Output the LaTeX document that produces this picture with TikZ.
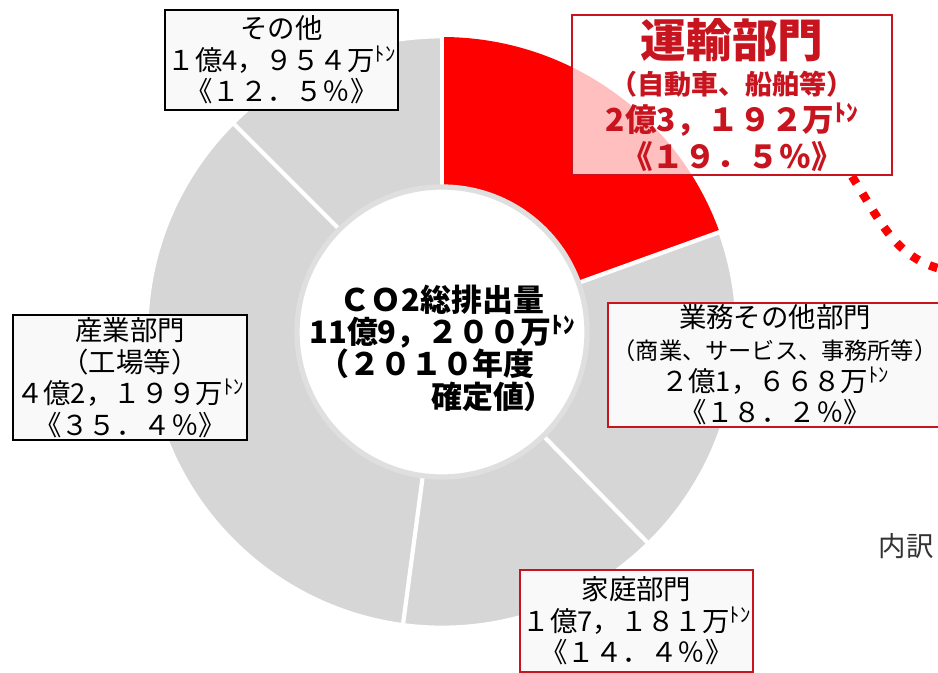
\documentclass[tikz,border=0pt]{standalone}
\usepackage{fontspec}
\setmainfont{Noto Sans CJK JP}
\usepackage{graphicx}
\usetikzlibrary{positioning}
\definecolor{ringgray}{RGB}{214,214,214}
\definecolor{boxred}{RGB}{200,20,30}
\definecolor{wedgered}{RGB}{255,0,0}
\newcommand{\tonunit}{\raisebox{0.6ex}{\scalebox{0.75}{ﾄﾝ}}}
\tikzset{
	databox/.style = {
		draw=black,
		fill=gray!5,
		align=center,
		inner sep=0pt,
		line width=0.6pt,
		font=\fontsize{7.8}{9}\selectfont
	},
	databox_red/.style = {
		databox,
		draw=boxred,
		line width=0.5pt
	},
	databox_main/.style = {
		databox,
		draw=boxred,
		fill=white,
		fill opacity=0.75,
		text opacity=1,
		text=boxred,
		line width=0.8pt,
		font=\bfseries\fontsize{9}{10.5}\selectfont
	},
	center_text/.style = {
		align=center,
		inner sep=0pt,
		font=\bfseries\fontsize{8.8}{9.2}\selectfont
	},
	sep_line/.style = {
		white,
		line width=1.2pt
	},
	dot_link/.style = {
		wedgered,
		line width=2.4pt,
		dash pattern=on 2.4pt off 3.3pt
	}
}

\begin{document}
\begin{tikzpicture}
\path[use as bounding box, fill=white] (0,0) rectangle (9.38,6.72);
\coordinate (ctr) at (4.42,3.40);
\fill[ringgray, even odd rule] (ctr) circle (2.95) (ctr) circle (1.45);
\draw[white, line width=0.8pt] (ctr) circle (2.95);
\fill[wedgered] ([shift={(90:2.95)}]ctr) arc[start angle=90, end angle=19.8, radius=2.95]
	-- ([shift={(19.8:1.45)}]ctr) arc[start angle=19.8, end angle=90, radius=1.45] -- cycle;
\foreach \a in {90,19.8,-45.7,-97.6,135}
	\draw[sep_line] ([shift={(\a:1.40)}]ctr) -- ([shift={(\a:2.96)}]ctr);
\draw[fill=white, draw=gray!25, line width=1.5pt] (ctr) circle (1.45);
\node[center_text] (total) at ([yshift=-0.16cm]ctr) {ＣＯ2総排出量\\11億9，２００万\tonunit\\（２０１０年度\phantom{年}\\\hspace*{3.3em}確定値）};

\node[databox, minimum width=2.33cm, minimum height=1.0cm] (sonota) at (2.815,6.12) {その他\\１億4，９５４万\tonunit\\《１２．５％》};
\node[databox_main, minimum width=3.2cm, minimum height=1.6cm] (unyu) at (7.32,5.77) {{\fontsize{13}{14}\selectfont 運輸部門}\\{\fontsize{7.7}{9.5}\selectfont （自動車、船舶等）}\\2億3，１９２万\tonunit\\《１９．５％》};
\node[databox_red, minimum width=3.34cm, minimum height=1.24cm] (gyomu) at (7.75,3.07) {業務その他部門\\{\fontsize{6.6}{8}\selectfont （商業、サービス、事務所等）}\\２億1，６６８万\tonunit\\《１８．２％》};
\node[databox_red, minimum width=2.33cm, minimum height=1.02cm] (katei) at (6.365,0.51) {家庭部門\\１億7，１８１万\tonunit\\《１４．４％》};
\node[databox, minimum width=2.34cm, minimum height=1.25cm] (sangyo) at (1.30,2.945) {産業部門\\（工場等）\\４億2，１９９万\tonunit\\《３５．４％》};

\node[anchor=west, inner sep=0pt, text=black!80, font=\fontsize{7.8}{9}\selectfont] (uchiwake) at (8.78,1.26) {内訳};

\coordinate (dot_end) at (9.45,4.02);
\draw[dot_link] ([xshift=1.2cm]unyu.south) .. controls (8.80,4.52) and (8.95,4.13) .. (dot_end);
\end{tikzpicture}
\end{document}
